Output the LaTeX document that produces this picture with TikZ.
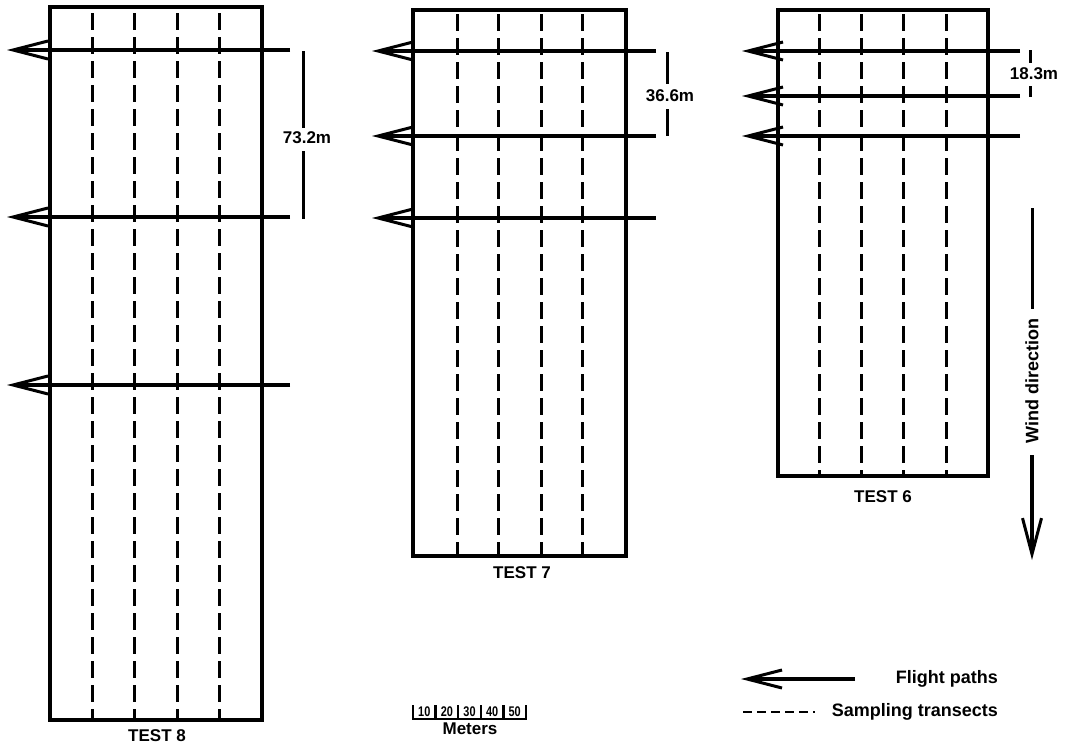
\documentclass[tikz,border=0pt]{standalone}
\usepackage{fontspec}
\setmainfont{Liberation Sans}
\usetikzlibrary{arrows.meta}
\tikzset{
  field/.style={line width=3.4pt, line join=miter},
  transect/.style={line width=3pt, dash pattern=on 17pt off 7pt},
  flight/.style={line width=3.2pt, -{Straight Barb[length=35pt,width=18pt,line width=3pt]}},
  dimline/.style={line width=3pt},
  lbl/.style={font=\fontsize{17}{17}\selectfont\bfseries, inner sep=0pt},
  leg/.style={font=\fontsize{18}{18}\selectfont\bfseries, inner sep=0pt},
  scalenum/.style={font=\fontsize{14}{14}\selectfont\bfseries, inner sep=0pt},
}
\begin{document}
\begin{tikzpicture}[x=1pt,y=-1pt]
\useasboundingbox (0,0) rectangle (1069,745);

% ---------------- TEST 8 ----------------
\draw[field] (50,7) rectangle (262,720);
\foreach \x in {92,134,177,219} \draw[transect] (\x,13) -- (\x,720);
\foreach \y/\n in {50/a,217/b,385/c} {
  \coordinate (t8s\n) at (290,\y);
  \coordinate (t8e\n) at (7,\y);
  \draw[flight] (t8s\n) -- (t8e\n);
}
\node[lbl] (d8) at (307,138) {73.2m};
\coordinate (d8t) at (303,51);
\coordinate (d8u) at (303,128);
\coordinate (d8l) at (303,151);
\coordinate (d8b) at (303,219);
\draw[dimline] (d8t) -- (d8u);
\draw[dimline] (d8l) -- (d8b);
\node[lbl] (test8) at (157,736) {TEST 8};

% ---------------- TEST 7 ----------------
\draw[field] (413,10) rectangle (626,556);
\foreach \x in {457,498,541,582} \draw[transect] (\x,14) -- (\x,556);
\foreach \y/\n in {51/a,136/b,218/c} {
  \coordinate (t7s\n) at (656,\y);
  \coordinate (t7e\n) at (372,\y);
  \draw[flight] (t7s\n) -- (t7e\n);
}
\node[lbl] (d7) at (670,96) {36.6m};
\coordinate (d7t) at (667,52);
\coordinate (d7u) at (667,84);
\coordinate (d7l) at (667,109);
\coordinate (d7b) at (667,136);
\draw[dimline] (d7t) -- (d7u);
\draw[dimline] (d7l) -- (d7b);
\node[lbl] (test7) at (522,573) {TEST 7};

% ---------------- TEST 6 ----------------
\draw[field] (778,10) rectangle (988,476);
\foreach \x in {819,861,903,946} \draw[transect] (\x,14) -- (\x,476);
\foreach \y/\n in {51/a,96/b,136/c} {
  \coordinate (t6s\n) at (1020,\y);
  \coordinate (t6e\n) at (742,\y);
  \draw[flight] (t6s\n) -- (t6e\n);
}
\node[lbl] (d6) at (1034,74) {18.3m};
\coordinate (d6t) at (1030,50);
\coordinate (d6u) at (1030,63);
\coordinate (d6l) at (1030,86);
\coordinate (d6b) at (1030,97);
\draw[dimline] (d6t) -- (d6u);
\draw[dimline] (d6l) -- (d6b);
\node[lbl] (test6) at (883,497) {TEST 6};

% ---------------- Wind direction ----------------
\node[leg, rotate=90] (wind) at (1032,381) {Wind direction};
\coordinate (w0) at (1032,208);
\coordinate (w1) at (1032,309);
\coordinate (w2) at (1032,455);
\coordinate (w3) at (1032,560);
\draw[dimline] (w0) -- (w1);
\draw[line width=3.2pt, -{Straight Barb[length=36pt,width=19pt,line width=3pt]}] (w2) -- (w3);

% ---------------- Legend ----------------
\coordinate (la) at (855,679);
\coordinate (lb) at (741,679);
\draw[flight] (la) -- (lb);
\node[leg, anchor=east] (lflight) at (998,679) {Flight paths};
\coordinate (lc) at (743,712);
\coordinate (ld) at (815,712);
\draw[line width=2.6pt, dash pattern=on 9pt off 5pt] (lc) -- (ld);
\node[leg, anchor=east] (ltrans) at (998,712) {Sampling transects};

% ---------------- Scale bar ----------------
\coordinate (s0) at (413,719);
\coordinate (s5) at (526,719);
\draw[line width=2.4pt] (s0) -- (s5);
\foreach \i in {0,...,5} \draw[line width=2.4pt] (413+22.6*\i,705) -- (413+22.6*\i,720.2);
\foreach \i/\t in {1/10,2/20,3/30,4/40,5/50}
  \node[scalenum] (sn\t) at (413+22.6*\i-11.3,711.5) {\scalebox{0.78}[1]{\t}};
\node[lbl] (meters) at (470,729) {Meters};
\end{tikzpicture}
\end{document}
